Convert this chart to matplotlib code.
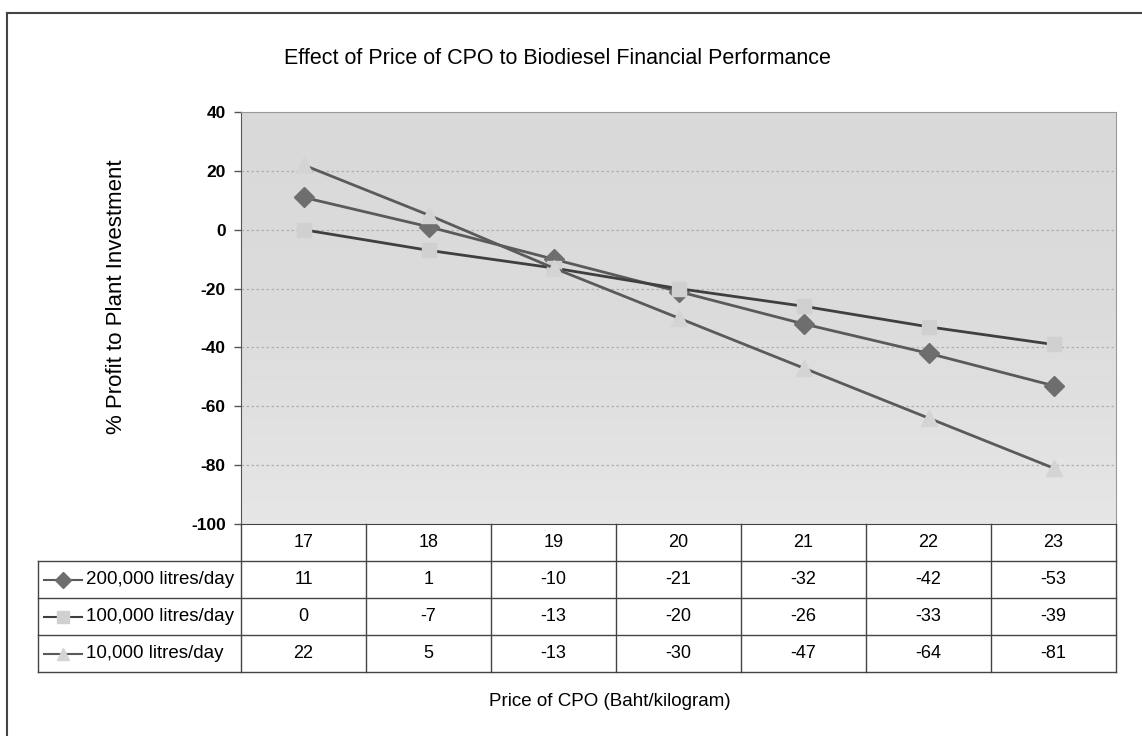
import matplotlib.pyplot as plt
import matplotlib.transforms as mtransforms
from matplotlib.lines import Line2D
import numpy as np

plt.rcParams['font.family'] = ['Liberation Sans', 'DejaVu Sans']

# dados
precos = ['17', '18', '19', '20', '21', '22', '23']
series_nomes = ['200,000 litres/day', '100,000 litres/day', '10,000 litres/day']
lucro_200k = [11, 1, -10, -21, -32, -42, -53]
lucro_100k = [0, -7, -13, -20, -26, -33, -39]
lucro_10k = [22, 5, -13, -30, -47, -64, -81]
y_ticks = [40, 20, 0, -20, -40, -60, -80, -100]

W, H = 1142, 736
fig = plt.figure(figsize=(W / 100, H / 100), dpi=100)
ax = fig.add_axes([241 / W, 1 - 524 / H, 875 / W, 412 / H])

x = np.arange(len(precos))
ax.set_xlim(-0.5, len(precos) - 0.5)
ax.set_ylim(-100, 40)

# fundo cinza com leve gradiente
grad = np.linspace(0, 1, 100).reshape(-1, 1)
ax.imshow(grad, extent=[0, 1, 0, 1], transform=ax.transAxes, aspect='auto',
          cmap=plt.matplotlib.colors.LinearSegmentedColormap.from_list(
              'g', ['#e6e6e6', '#dcdcdc', '#d9d9d9']), zorder=0, origin='lower')

estilos = [
    (lucro_200k, 'D', '#6e6e6e', '#5a5a5a', 10),
    (lucro_100k, 's', '#d0d0d0', '#3f3f3f', 10),
    (lucro_10k, '^', '#d4d4d4', '#5a5a5a', 11),
]
for vals, mk, mcor, lcor, ms in estilos:
    ax.plot(x, vals, color=lcor, lw=2, marker=mk, markersize=ms,
            markerfacecolor=mcor, markeredgecolor=mcor, zorder=3)

ax.set_yticks(y_ticks)
ax.set_yticklabels([str(t) for t in y_ticks], fontsize=12.5, fontweight='bold')
ax.set_xticks([])
ax.tick_params(axis='y', length=5, width=1, color='#555555', pad=6)
for v in y_ticks[1:-1]:
    ax.axhline(v, color='#b0b0b0', lw=0.9, ls=(0, (2, 2)), zorder=1)
ax.spines['left'].set_color('#555555')
ax.spines['bottom'].set_color('#444444')
ax.spines['top'].set_color('#999999')
ax.spines['right'].set_color('#999999')

# tabela de dados
h = 37 / 412
blend = mtransforms.blended_transform_factory(ax.transData, ax.transAxes)
leg_x0 = (38 - 241) / 875
cor_tab = '#444444'
n = len(precos)

# linhas horizontais
for k in range(1, 5):
    ax.plot([leg_x0, 1], [-k * h, -k * h], color=cor_tab, lw=1,
            transform=ax.transAxes, clip_on=False)
ax.plot([leg_x0, leg_x0], [-h, -4 * h], color=cor_tab, lw=1,
        transform=ax.transAxes, clip_on=False)
for i in range(n + 1):
    ax.plot([i - 0.5, i - 0.5], [0, -4 * h], color=cor_tab, lw=1,
            transform=blend, clip_on=False)

for i, p in enumerate(precos):
    ax.text(i, -0.5 * h, p, ha='center', va='center', fontsize=13, transform=blend)

tabela = [lucro_200k, lucro_100k, lucro_10k]
for r, (vals, nome, est) in enumerate(zip(tabela, series_nomes, estilos)):
    yc = -(r + 1.5) * h
    for i, v in enumerate(vals):
        ax.text(i, yc, str(v), ha='center', va='center', fontsize=13, transform=blend)
    kx0, kx1 = (44 - 241) / 875, (82 - 241) / 875
    ax.plot([kx0, kx1], [yc, yc], color=est[3], lw=1.5,
            transform=ax.transAxes, clip_on=False)
    ax.plot([(kx0 + kx1) / 2], [yc], marker=est[1], markersize=est[4] - 2,
            color=est[2], transform=ax.transAxes, clip_on=False)
    ax.text((86 - 241) / 875, yc, nome, ha='left', va='center', fontsize=13.5,
            transform=ax.transAxes)

fig.text(557 / W, 1 - 58 / H, 'Effect of Price of CPO to Biodiesel Financial Performance',
         ha='center', va='center', fontsize=15.5)
fig.text(610 / W, 1 - 702 / H, 'Price of CPO (Baht/kilogram)',
         ha='center', va='center', fontsize=13.5)
fig.text(117 / W, 1 - 297 / H, '% Profit to Plant Investment', rotation=90,
         ha='center', va='center', fontsize=16)

# moldura externa
fig.add_artist(Line2D([7 / W, 7 / W], [0, 1 - 13 / H], color='#444444', lw=1.5,
                      transform=fig.transFigure))
fig.add_artist(Line2D([7 / W, 1], [1 - 13 / H, 1 - 13 / H], color='#444444', lw=1.5,
                      transform=fig.transFigure))

fig.savefig('out.png', dpi=100)
